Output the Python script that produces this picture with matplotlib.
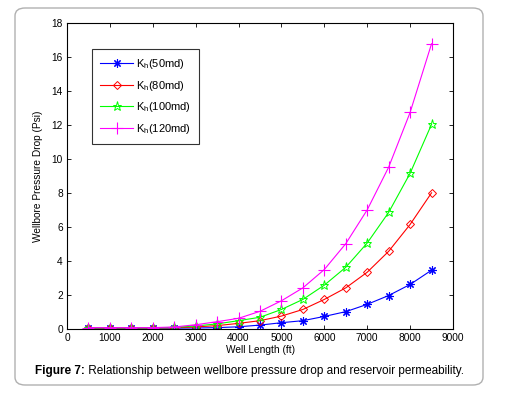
import matplotlib.pyplot as plt
from matplotlib.patches import FancyBboxPatch

plt.rcParams['font.family'] = ['Liberation Sans', 'DejaVu Sans']
plt.rcParams['mathtext.fontset'] = 'custom'
plt.rcParams['mathtext.rm'] = 'Liberation Sans'
plt.rcParams['mathtext.it'] = 'Liberation Sans'

# well length (ft)
length = [500, 1000, 1500, 2000, 2500, 3000, 3500, 4000,
          4500, 5000, 5500, 6000, 6500, 7000, 7500, 8000, 8500]

# pressure drop (psi) for each permeability
kh50 = [0.05, 0.05, 0.05, 0.05, 0.05, 0.06, 0.08, 0.13,
        0.23, 0.37, 0.49, 0.74, 1.02, 1.45, 1.97, 2.62, 3.46]
kh80 = [0.06, 0.06, 0.06, 0.06, 0.07, 0.12, 0.20, 0.33,
        0.49, 0.76, 1.15, 1.74, 2.42, 3.34, 4.57, 6.15, 8.01]
kh100 = [0.07, 0.07, 0.07, 0.07, 0.09, 0.18, 0.30, 0.49,
         0.69, 1.15, 1.74, 2.58, 3.63, 5.06, 6.86, 9.16, 12.04]
kh120 = [0.08, 0.08, 0.08, 0.08, 0.12, 0.25, 0.43, 0.63,
         1.04, 1.66, 2.42, 3.50, 5.02, 7.01, 9.52, 12.74, 16.78]

labels = [r'K$_{\rm h}$(50md)', r'K$_{\rm h}$(80md)',
          r'K$_{\rm h}$(100md)', r'K$_{\rm h}$(120md)']

fig = plt.figure(figsize=(5.06, 3.94), dpi=100)
ax = fig.add_axes([67 / 506, 1 - 329 / 394, (453 - 67) / 506, (329 - 23) / 394])

# rounded frame around figure + caption
frame = FancyBboxPatch((15 / 506, 9 / 394), (483 - 15) / 506, (386 - 9) / 394,
                       boxstyle='round,pad=0,rounding_size=0.02',
                       transform=fig.transFigure, fill=False,
                       edgecolor='#b0b0b0', linewidth=1.0)
fig.patches.append(frame)

lw = 0.8
ax.plot(length, kh50, color='#0000ff', lw=lw, marker=(8, 2, 0), ms=6,
        mew=0.8, label=labels[0])
ax.plot(length, kh80, color='#ff0000', lw=lw, marker='D', ms=4.5,
        mfc='none', mew=0.7, label=labels[1])
ax.plot(length, kh100, color='#00ff00', lw=lw, marker='*', ms=6.5,
        mfc='none', mew=0.7, label=labels[2])
ax.plot(length, kh120, color='#ff00ff', lw=lw, marker='+', ms=8,
        mew=0.8, label=labels[3])

ax.set_xlim(0, 9000)
ax.set_ylim(0, 18)
ax.set_xticks(range(0, 9001, 1000))
ax.set_yticks(range(0, 19, 2))
ax.tick_params(direction='in', top=True, right=True, labelsize=7.3,
               length=3, width=0.6, pad=3)
for s in ax.spines.values():
    s.set_linewidth(0.8)

ax.set_xlabel('Well Length (ft)', fontsize=7.3, labelpad=1)
ax.set_ylabel('Wellbore Pressure Drop (Psi)', fontsize=7.3, labelpad=6)

leg = ax.legend(loc='upper left', bbox_to_anchor=(0.065, 0.915), fontsize=8,
                frameon=True, fancybox=False, edgecolor='black',
                borderaxespad=0, handlelength=3.0, borderpad=0.7,
                labelspacing=0.7, handletextpad=0.25)
leg.get_frame().set_linewidth(0.8)

# caption: bold lead-in followed by regular text
cap_y = 1 - 371 / 394
t1 = fig.text(35 / 506, cap_y, 'Figure 7:', fontsize=8.5, fontweight='bold',
              ha='left', va='center')
ax.annotate(' Relationship between wellbore pressure drop and reservoir permeability.',
            xy=(1, 0.5), xycoords=t1, ha='left', va='center', fontsize=8.5)

fig.savefig('out.png', dpi=100)
